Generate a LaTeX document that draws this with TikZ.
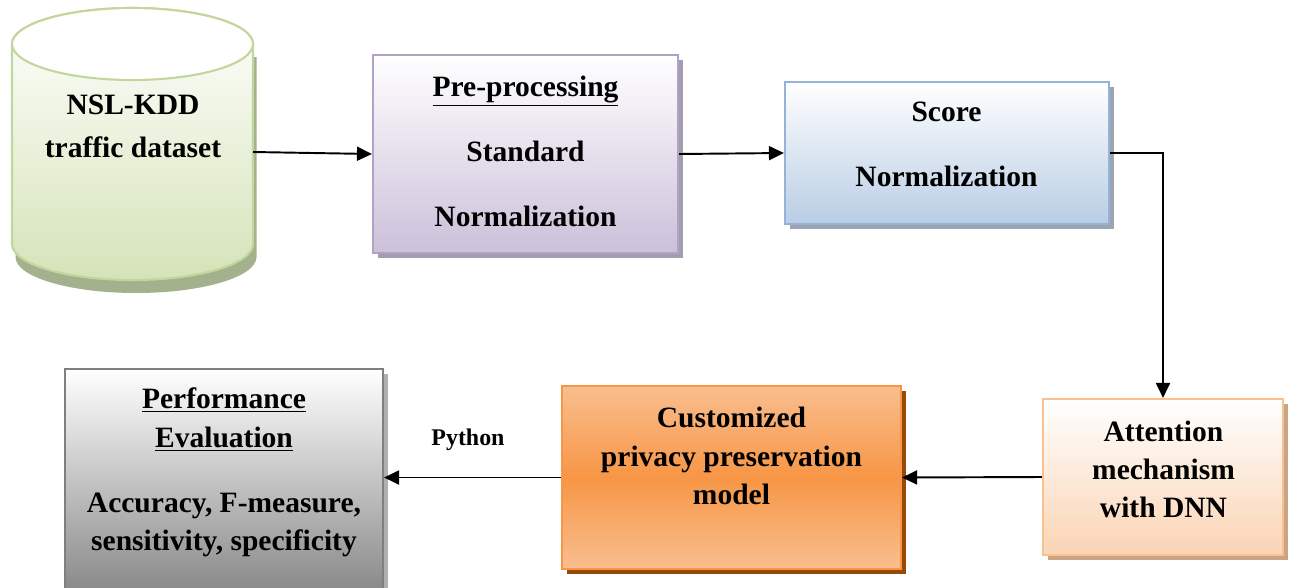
\documentclass[tikz,border=0pt]{standalone}
\usepackage{fontspec}
\setmainfont{Liberation Serif}
\usetikzlibrary{positioning,shadows,arrows.meta}

\definecolor{cylline}{HTML}{C3D69B}
\definecolor{cylgreen}{HTML}{D5E3B8}
\definecolor{cylshade}{HTML}{A3B28C}
\definecolor{lavline}{HTML}{B3A2C7}
\definecolor{lavfill}{HTML}{CCC0DA}
\definecolor{lavshade}{HTML}{A39EAD}
\definecolor{blueline}{HTML}{95B3D7}
\definecolor{bluefill}{HTML}{B9CDE5}
\definecolor{blueshade}{HTML}{9BA4B0}
\definecolor{peachline}{HTML}{FAC090}
\definecolor{peachfill}{HTML}{FBD4B4}
\definecolor{peachshade}{HTML}{C9A486}
\definecolor{orline}{HTML}{F79646}
\definecolor{orlight}{HTML}{F9BE8F}
\definecolor{ordark}{HTML}{F79646}
\definecolor{orshade}{HTML}{984807}
\definecolor{grayline}{HTML}{7F7F7F}
\definecolor{grayfill}{HTML}{8A8A8A}
\definecolor{grayshade}{HTML}{B0B0B0}

\begin{document}
\begin{tikzpicture}[
        , box/.style={rectangle, draw, line width=1.2pt, inner sep=0pt}
        , txt/.style={align=center, font=\bfseries\fontsize{16.8}{#1}\selectfont}
        , conn/.style={-{Triangle[length=3mm,width=2.8mm]}, line width=1.1pt}
        , shade/.style={drop shadow={shadow xshift=.09cm, shadow yshift=-.1cm,
                        fill=#1, opacity=1}}
        ]

        \useasboundingbox (0,0) rectangle (25.82,-11.74);

        % dataset cylinder
        \fill[cylshade, xshift=.07cm, yshift=-.26cm] (0.24,-0.88) -- (0.24,-4.88)
            arc[start angle=180, end angle=360, x radius=2.41cm, y radius=0.72cm]
            -- (5.06,-0.88) -- cycle;
        \path[draw=cylline, line width=1.2pt, top color=white, bottom color=cylgreen]
            (0.24,-0.88) -- (0.24,-4.88)
            arc[start angle=180, end angle=360, x radius=2.41cm, y radius=0.72cm]
            -- (5.06,-0.88)
            arc[start angle=0, end angle=180, x radius=2.41cm, y radius=0.72cm]
            -- cycle;
        \draw[cylline, line width=1.2pt, fill=white] (2.65,-0.88)
            ellipse [x radius=2.41cm, y radius=0.72cm];
        \node[txt=24.4pt] (data) at (2.66,-2.53) {NSL-KDD\\traffic dataset};
        \coordinate (dataout) at (5.06,-3.04);

        % boxes
        \node[box, shade=lavshade, draw=lavline, top color=white, bottom color=lavfill,
            minimum width=6.10cm, minimum height=3.96cm] (pre) at (10.51,-3.08) {};
        \node[box, shade=blueshade, draw=blueline, top color=white, bottom color=bluefill,
            minimum width=6.48cm, minimum height=2.84cm] (score) at (18.94,-3.06) {};
        \node[box, shade=peachshade, draw=peachline, top color=white, bottom color=peachfill,
            minimum width=4.80cm, minimum height=3.12cm] (attn) at (23.26,-9.54) {};
        \node[box, shade=orshade, draw=orline, top color=orlight, bottom color=orlight,
            middle color=ordark,
            minimum width=6.78cm, minimum height=3.66cm] (model) at (14.63,-9.55) {};
        \node[box, shade=grayshade, draw=grayline, top color=white, bottom color=grayfill,
            minimum width=6.36cm, minimum height=4.40cm] (perf) at (4.48,-9.58) {};

        % box texts
        \node[txt=37pt] (pre-t) at (10.51,-3.02)
            {\underline{Pre-processing}\\Standard\\Normalization};
        \node[txt=37pt] (score-t) at (18.93,-2.89) {Score\\Normalization};
        \node[txt=21.6pt] (attn-t) at (23.27,-9.38) {Attention\\mechanism\\with DNN};
        \node[txt=22.1pt] (model-t) at (14.63,-9.12)
            {Customized\\privacy preservation\\model};
        \node[txt=21.8pt] (perf-t) at (4.48,-9.45)
            {\underline{Performance}\\\underline{Evaluation}\\[15.1pt]
             Accuracy, F-measure,\\sensitivity, specificity};

        \node[font=\bfseries\fontsize{13.6}{16}\selectfont] (python) at (9.36,-8.80) {Python};

        % connectors
        \draw[conn] (dataout) -- (pre.west);
        \draw[conn] (pre.east) -- (score.west);
        \draw[conn] (score.east) -| (attn.north);
        \draw[conn] (attn.west) -- (model.east);
        \draw[conn] (model.west) -- (model.west -| perf.east);

    \end{tikzpicture}
\end{document}
